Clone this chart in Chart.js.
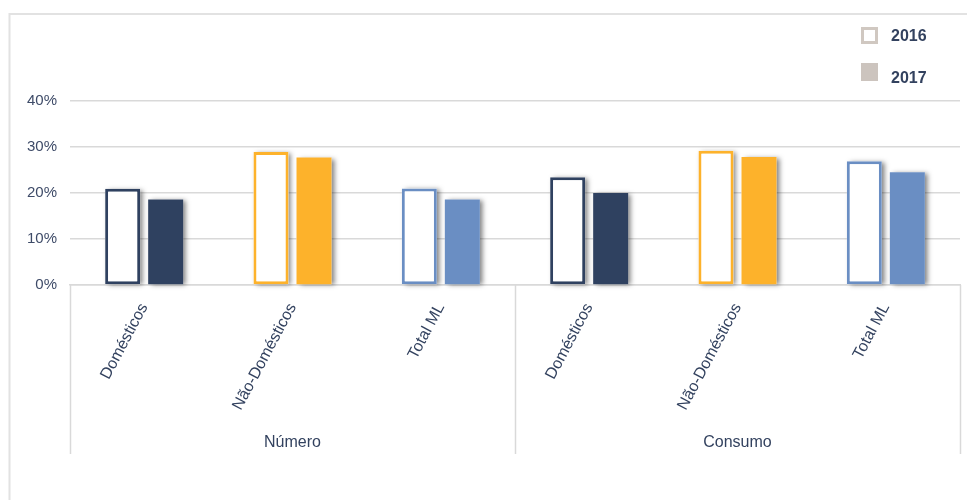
<!DOCTYPE html>
<html>
<head>
<meta charset="utf-8">
<script src="https://cdn.jsdelivr.net/npm/chart.js@4.4.0/dist/chart.umd.min.js"></script>
<style>
    html, body { margin: 0; padding: 0; background: #fff; }
    canvas { display: block; }
</style>
</head>
<body>
<canvas id="chart" width="967" height="500"></canvas>
<script>
// data
const categories = ['Domésticos', 'Não-Domésticos', 'Total ML', 'Domésticos', 'Não-Domésticos', 'Total ML'];
const groups = ['Número', 'Consumo'];
const groupSize = 3;
const years = ['2016', '2017'];
const values2016 = [20.9, 28.9, 21.0, 23.4, 29.2, 26.9];
const values2017 = [18.6, 27.7, 18.6, 20.0, 27.8, 24.5];
const yTicks = [0, 10, 20, 30, 40];

const barColors = ['#2f4160', '#fdb22b', '#6a8ec3', '#2f4160', '#fdb22b', '#6a8ec3'];
const textColor = '#33425f';
const gridColor = '#d9d9d9';
const fontFamily = '"Liberation Sans", Arial, sans-serif';

// outer frame of the chart box
const framePlugin = {
    id: 'frame',
    beforeDraw(chart) {
        const ctx = chart.ctx;
        ctx.save();
        ctx.strokeStyle = '#e2e2e2';
        ctx.lineWidth = 2;
        ctx.beginPath();
        ctx.moveTo(9.5, chart.height);
        ctx.lineTo(9.5, 14);
        ctx.lineTo(chart.width, 14);
        ctx.stroke();
        ctx.restore();
    }
};

// soft drop shadow behind every bar
const shadowPlugin = {
    id: 'barShadow',
    beforeDatasetsDraw(chart) {
        const ctx = chart.ctx;
        ctx.save();
        ctx.shadowColor = 'rgba(0,0,0,0.5)';
        ctx.shadowBlur = 5;
        ctx.shadowOffsetX = 3;
        ctx.shadowOffsetY = 1;
        ctx.fillStyle = '#ffffff';
        chart.data.datasets.forEach((ds, i) => {
            chart.getDatasetMeta(i).data.forEach(bar => {
                const w = bar.width;
                ctx.fillRect(bar.x - w / 2, bar.y, w, bar.base - bar.y);
            });
        });
        ctx.restore();
    }
};

// group separators and group names under the category labels
const groupPlugin = {
    id: 'groups',
    afterDraw(chart) {
        const ctx = chart.ctx;
        const x = chart.scales.x;
        const step = x.getPixelForValue(1) - x.getPixelForValue(0);
        const top = chart.chartArea.bottom;
        const bottom = 454;
        ctx.save();
        ctx.strokeStyle = gridColor;
        ctx.lineWidth = 1.5;
        for (let g = 0; g <= groups.length; g++) {
            const px = Math.round(x.getPixelForValue(g * groupSize) - step / 2) + 0.5;
            ctx.beginPath();
            ctx.moveTo(px, top);
            ctx.lineTo(px, bottom);
            ctx.stroke();
        }
        ctx.fillStyle = textColor;
        ctx.font = '16px ' + fontFamily;
        ctx.textAlign = 'center';
        ctx.textBaseline = 'middle';
        groups.forEach((name, g) => {
            const cx = (x.getPixelForValue(g * groupSize) + x.getPixelForValue(g * groupSize + groupSize - 1)) / 2;
            ctx.fillText(name, cx, 443);
        });
        ctx.restore();
    }
};

// legend in the top right corner, stacked
const legendPlugin = {
    id: 'cornerLegend',
    afterDraw(chart) {
        const ctx = chart.ctx;
        ctx.save();
        ctx.font = 'bold 16px ' + fontFamily;
        ctx.textBaseline = 'middle';
        years.forEach((label, i) => {
            const y = 36 + i * 40;
            if (i === 0) {
                ctx.fillStyle = '#fff';
                ctx.fillRect(861, y - 9, 17, 17);
                ctx.strokeStyle = '#d0c8c1';
                ctx.lineWidth = 3;
                ctx.strokeRect(862.5, y - 7.5, 14, 14);
            } else {
                ctx.fillStyle = '#ccc4be';
                ctx.fillRect(861, y - 13, 17, 18);
            }
            ctx.fillStyle = textColor;
            ctx.fillText(label, 891, y + 1 + i * 2);
        });
        ctx.restore();
    }
};

new Chart(document.getElementById('chart'), {
    type: 'bar',
    data: {
        labels: categories,
        datasets: [{
            label: years[0],
            data: values2016,
            backgroundColor: '#ffffff',
            borderColor: barColors,
            borderWidth: 3,
            borderSkipped: false
        }, {
            label: years[1],
            data: values2017,
            backgroundColor: barColors,
            borderWidth: 0
        }]
    },
    options: {
        responsive: false,
        animation: false,
        devicePixelRatio: 1,
        categoryPercentage: 0.58,
        barPercentage: 0.814,
        layout: { padding: { top: 101, left: 10, right: 7, bottom: 0 } },
        plugins: {
            legend: { display: false },
            tooltip: { enabled: false }
        },
        scales: {
            x: {
                grid: { display: false },
                border: { color: gridColor, width: 1.5 },
                ticks: {
                    color: textColor,
                    font: { size: 16, family: fontFamily },
                    minRotation: 62,
                    maxRotation: 62,
                    autoSkip: false,
                    padding: 7
                },
                afterFit: s => { s.height = 215; }
            },
            y: {
                min: 0,
                max: 40,
                afterBuildTicks: s => { s.ticks = yTicks.map(v => ({ value: v })); },
                grid: { color: gridColor, lineWidth: 1.5, drawTicks: false },
                border: { display: false },
                ticks: {
                    color: '#3e4b68',
                    font: { size: 15, family: fontFamily },
                    padding: 13,
                    callback: v => v + '%'
                },
                afterFit: s => { s.width = 60; }
            }
        }
    },
    plugins: [framePlugin, shadowPlugin, groupPlugin, legendPlugin]
});
</script>
</body>
</html>
